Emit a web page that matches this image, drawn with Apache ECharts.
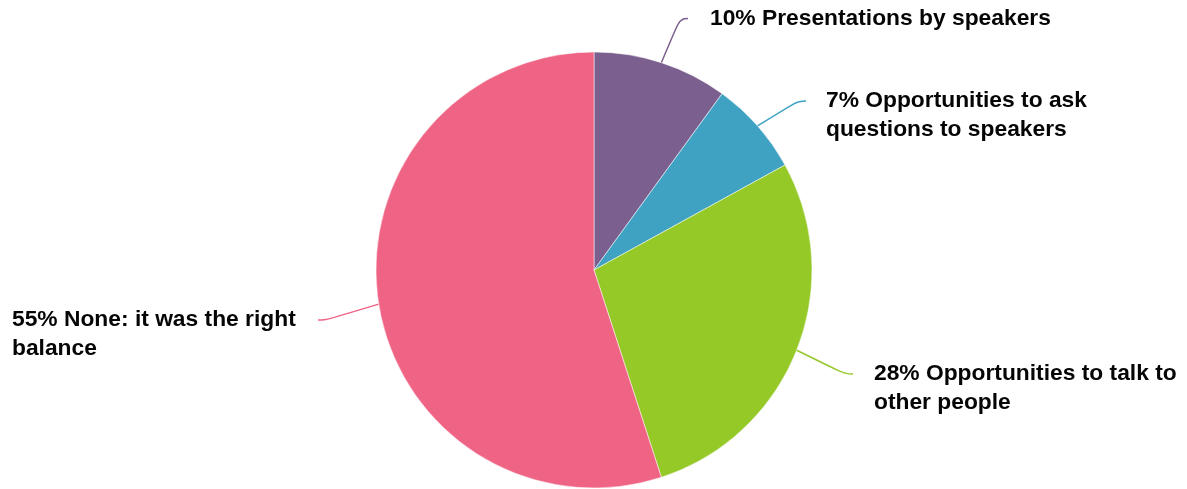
<!DOCTYPE html>
<html>
<head>
<meta charset="utf-8">
<script src="https://cdn.jsdelivr.net/npm/echarts@6/dist/echarts.min.js"></script>
<style>html,body{margin:0;padding:0;background:#fff}#c{width:1187px;height:489px}</style>
</head>
<body>
<div id="c"></div>
<script>
var categories = ['Presentations by speakers', 'Opportunities to ask questions to speakers', 'Opportunities to talk to other people', 'None: it was the right balance'];
var values = [10, 7, 28, 55];
var colors = ['#7B5F8E', '#40A2C3', '#94C927', '#EF6485'];

// label placement (style config)
var labelPos = [
  {x: 688, y: 4, width: 400, padding: [0, 0, 0, 22]},
  {x: 806, y: 57.5, width: 290, padding: [29, 0, 0, 20]},
  {x: 853, y: 330.5, width: 325, padding: [29, 0, 0, 21]},
  {x: 12, y: 276.5, width: 292, padding: [29, 14, 0, 0]}
];

var chart = echarts.init(document.getElementById('c'));
chart.setOption({
  animation: false,
  series: [{
    type: 'pie',
    center: [594, 270],
    radius: 218,
    startAngle: 90,
    clockwise: true,
    avoidLabelOverlap: false,
    itemStyle: {borderColor: '#ffffff', borderWidth: 0.5},
    label: {
      show: true,
      formatter: '{d}% {b}',
      fontFamily: 'Liberation Sans',
      fontWeight: 'bold',
      fontSize: 22.8,
      lineHeight: 29,
      color: '#050505',
      overflow: 'break',
      backgroundColor: 'transparent'
    },
    labelLine: {show: true, length: 15, length2: 8, smooth: 0.5, lineStyle: {width: 1.5}},
    labelLayout: function (p) {
      var c = labelPos[p.dataIndex];
      return {x: c.x, y: c.y, align: 'left', verticalAlign: 'top'};
    },
    data: categories.map(function (n, i) {
      return {
        name: n,
        value: values[i],
        itemStyle: {color: colors[i]},
        label: {width: labelPos[i].width, padding: labelPos[i].padding}
      };
    })
  }]
});
</script>
</body>
</html>
